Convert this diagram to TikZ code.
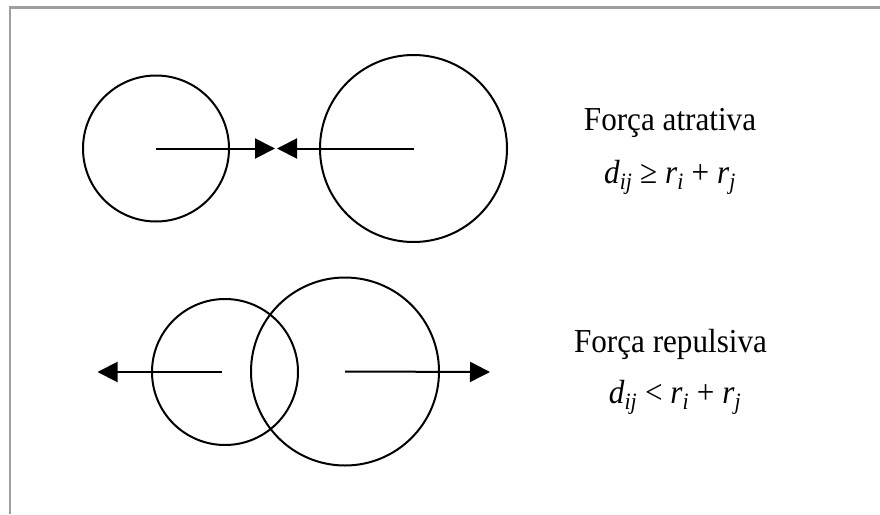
\documentclass[tikz,border=0pt]{standalone}
\usepackage{fontspec}
\setmainfont{Liberation Serif}[FakeStretch=0.93]
\usetikzlibrary{arrows.meta, positioning}

\newcommand{\sbi}[1]{\textsubscript{\textit{#1}}}

\begin{document}
\begin{tikzpicture}[x=1pt, y=-1pt,
  ball/.style={draw, circle, line width=2pt, inner sep=0pt},
  force/.style={line width=2pt, -{Triangle[length=20pt, width=20pt]}},
  lbl/.style={anchor=base, font=\fontsize{33.5}{38}\selectfont}]
  \useasboundingbox (0,0) rectangle (880,514);

  % frame
  \draw[gray!75, line width=2.5pt] (10,514) -- (10,7.5) -- (880,7.5);

  % attractive pair
  \node[ball, minimum size=146pt] (a1) at (156,148.5) {};
  \node[ball, minimum size=187pt] (a2) at (413.5,148.5) {};
  \coordinate (a1tip) at (275,148.5);
  \coordinate (a2tip) at (277,148.5);
  \draw[force] (a1.center) -- (a1tip);
  \draw[force] (a2.center) -- (a2tip);

  % repulsive pair
  \node[ball, minimum size=146pt] (r1) at (225,372) {};
  \node[ball, minimum size=188pt] (r2) at (345,371.5) {};
  \coordinate (r1tip) at (97.5,372);
  \coordinate (r2tip) at (490,372);
  \draw[force] (222,372) -- (r1tip);
  \draw[force] (r2.center) -- (r2tip);

  % labels
  \node[lbl] (attr) at (670,130) {Força atrativa};
  \node[lbl] (attrlaw) at (670,183) {\textit{d}\sbi{ij} ≥ \textit{r}\sbi{i} + \textit{r}\sbi{j}};
  \node[lbl] (rep) at (670.5,352) {Força repulsiva};
  \node[lbl] (replaw) at (675,403) {\textit{d}\sbi{ij} < \textit{r}\sbi{i} + \textit{r}\sbi{j}};
\end{tikzpicture}
\end{document}
